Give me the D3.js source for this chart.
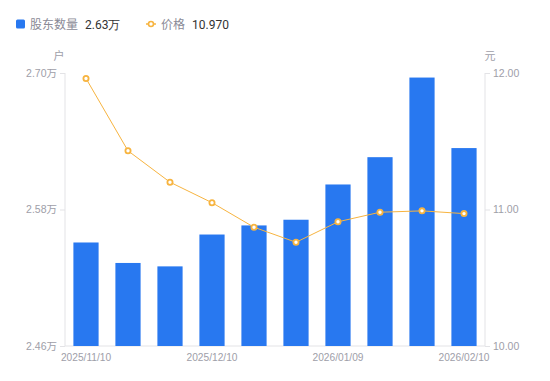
<!DOCTYPE html>
<html><head><meta charset="utf-8">
<script src="https://cdn.jsdelivr.net/npm/d3@7/dist/d3.min.js"></script>
<style>body{margin:0;background:#fff}svg{display:block;font-family:"Noto Sans CJK SC","Noto Sans",sans-serif}</style>
</head><body><svg id="c" width="550" height="381"></svg>
<script>
const dates = ["2025/11/10","2025/11/20","2025/11/28","2025/12/10","2025/12/19","2025/12/31","2026/01/09","2026/01/20","2026/01/30","2026/02/10"];
const holders = [2.551, 2.533, 2.530, 2.558, 2.566, 2.571, 2.602, 2.626, 2.696, 2.634];
const prices = [11.96, 11.43, 11.20, 11.05, 10.87, 10.76, 10.91, 10.98, 10.99, 10.97];
const leftTicks = [2.46, 2.58, 2.70];
const rightTicks = [10, 11, 12];
const xTickLabels = ["2025/11/10","2025/12/10","2026/01/09","2026/02/10"];

const svg = d3.select("#c");
const L = 65, R = 485, T = 73, B = 346;
const barColor = "#2878f0", lineColor = "#f7b440", axisColor = "#e3e3e6", textColor = "#9e9ea8";
const tickFont = "'Liberation Sans', Arial, 'Noto Sans CJK SC', sans-serif";

const x = d3.scaleBand().domain(dates).range([L, R]).paddingInner(0.4).paddingOuter(0.2);
const yL = d3.scaleLinear().domain([2.46, 2.70]).range([B, T]);
const yR = d3.scaleLinear().domain([10, 12]).range([B, T]);

// axes
const gl = svg.append("g").attr("transform", `translate(${L},0)`)
  .call(d3.axisLeft(yL).tickValues(leftTicks).tickSize(5).tickPadding(3).tickFormat(d => d.toFixed(2) + "万"));
const gr = svg.append("g").attr("transform", `translate(${R},0)`)
  .call(d3.axisRight(yR).tickValues(rightTicks).tickSize(5).tickPadding(3).tickFormat(d => d.toFixed(2)));
const gb = svg.append("g").attr("transform", `translate(0,${B})`)
  .call(d3.axisBottom(x).tickValues(xTickLabels).tickSize(0).tickPadding(8));
[gl, gr, gb].forEach(g => {
  g.selectAll(".domain").attr("stroke", axisColor);
  g.selectAll(".tick line").attr("stroke", axisColor);
  g.selectAll("text").attr("fill", textColor).style("font-size", "10.5px").style("font-family", tickFont);
});
gb.selectAll("text").style("font-size", "10.2px");
gl.select(".domain").attr("d", `M0,${T}V${B}`);
gr.select(".domain").attr("d", `M0,${T}V${B}`);
gb.select(".domain").attr("d", `M${L},0H${R}`);

svg.append("text").attr("x", 59).attr("y", 60).attr("text-anchor", "middle").attr("fill", textColor).style("font-size", "11px").text("户");
svg.append("text").attr("x", 490).attr("y", 60).attr("text-anchor", "middle").attr("fill", textColor).style("font-size", "11px").text("元");

// bars
svg.append("g").selectAll("rect").data(holders).join("rect")
  .attr("x", (d, i) => x(dates[i])).attr("width", x.bandwidth())
  .attr("y", d => yL(d)).attr("height", d => B - yL(d))
  .attr("fill", barColor);

// line
const line = d3.line().x((d, i) => x(dates[i]) + x.bandwidth() / 2).y(d => yR(d));
svg.append("path").datum(prices).attr("d", line).attr("fill", "none").attr("stroke", lineColor).attr("stroke-width", 1);
svg.append("g").selectAll("circle").data(prices).join("circle")
  .attr("cx", (d, i) => x(dates[i]) + x.bandwidth() / 2).attr("cy", d => yR(d))
  .attr("r", 2.6).attr("fill", "#fff").attr("stroke", lineColor).attr("stroke-width", 1.8);

// legend
const lg = svg.append("g").style("font-size", "12px");
lg.append("rect").attr("x", 16).attr("y", 19.5).attr("width", 9).attr("height", 9).attr("rx", 1.5).attr("fill", barColor);
lg.append("text").attr("x", 30).attr("y", 28.5).attr("fill", "#8a8a96").text("股东数量");
lg.append("text").attr("x", 85).attr("y", 28.5).attr("fill", "#333").style("font-family", "Roboto, sans-serif").text(holders[holders.length - 1].toFixed(2) + "万");
lg.append("line").attr("x1", 146).attr("x2", 156).attr("y1", 24).attr("y2", 24).attr("stroke", lineColor).attr("stroke-width", 1.5);
lg.append("circle").attr("cx", 151).attr("cy", 24).attr("r", 2.5).attr("fill", "#fff").attr("stroke", lineColor).attr("stroke-width", 1.6);
lg.append("text").attr("x", 161).attr("y", 28.5).attr("fill", "#8a8a96").text("价格");
lg.append("text").attr("x", 192).attr("y", 28.5).attr("fill", "#333").style("font-family", "Roboto, sans-serif").text(prices[prices.length - 1].toFixed(3));
</script></body></html>
